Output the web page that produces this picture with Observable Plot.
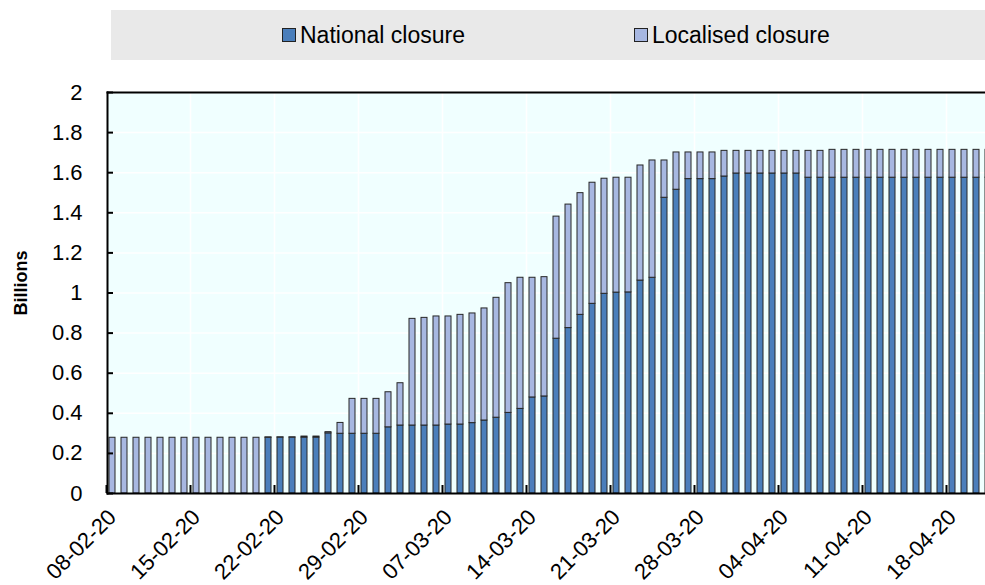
<!DOCTYPE html>
<html>
<head>
<meta charset="utf-8">
<script src="https://cdn.jsdelivr.net/npm/d3@7"></script>
<script src="https://cdn.jsdelivr.net/npm/@observablehq/plot@0.6"></script>
<style>
  html, body { margin: 0; padding: 0; background: #fff; width: 985px; height: 585px; overflow: hidden; }
  #legend { position: relative; width: 985px; height: 70px; font-family: "Liberation Sans", Arial, sans-serif; }
  #legend .band { position: absolute; left: 111px; top: 10px; width: 874px; height: 50px; background: #e9e9e9; }
  #legend .item { position: absolute; top: 10px; height: 50px; display: flex; align-items: center; font-size: 23px; color: #000; }
  #legend .sw { width: 12px; height: 12px; border: 1px solid #222; margin-right: 4px; box-sizing: content-box; }
  #chart svg { display: block; }
</style>
</head>
<body>
<div id="legend"><div class="band"></div></div>
<div id="chart"></div>
<script>
// Categories: one bar per day
const dates = [
  "08-02-20","09-02-20","10-02-20","11-02-20","12-02-20","13-02-20","14-02-20",
  "15-02-20","16-02-20","17-02-20","18-02-20","19-02-20","20-02-20","21-02-20",
  "22-02-20","23-02-20","24-02-20","25-02-20","26-02-20","27-02-20","28-02-20",
  "29-02-20","01-03-20","02-03-20","03-03-20","04-03-20","05-03-20","06-03-20",
  "07-03-20","08-03-20","09-03-20","10-03-20","11-03-20","12-03-20","13-03-20",
  "14-03-20","15-03-20","16-03-20","17-03-20","18-03-20","19-03-20","20-03-20",
  "21-03-20","22-03-20","23-03-20","24-03-20","25-03-20","26-03-20","27-03-20",
  "28-03-20","29-03-20","30-03-20","31-03-20","01-04-20","02-04-20","03-04-20",
  "04-04-20","05-04-20","06-04-20","07-04-20","08-04-20","09-04-20","10-04-20",
  "11-04-20","12-04-20","13-04-20","14-04-20","15-04-20","16-04-20","17-04-20",
  "18-04-20","19-04-20","20-04-20","21-04-20"
];

// Series values (billions)
const national = [
  0,0,0,0,0,0,0,
  0,0,0,0,0,0,0.278,
  0.279,0.279,0.279,0.279,0.300,0.298,0.298,
  0.298,0.298,0.330,0.339,0.339,0.339,0.339,
  0.344,0.344,0.351,0.364,0.378,0.402,0.422,
  0.479,0.484,0.772,0.825,0.891,0.946,0.996,
  1.002,1.003,1.062,1.076,1.475,1.515,1.568,
  1.568,1.568,1.581,1.596,1.596,1.596,1.596,
  1.596,1.596,1.575,1.575,1.575,1.575,1.575,
  1.575,1.575,1.575,1.575,1.575,1.575,1.575,
  1.575,1.575,1.575,1.575
];
const localised = [
  0.278,0.278,0.278,0.278,0.278,0.278,0.278,
  0.278,0.278,0.278,0.278,0.278,0.278,0.002,
  0.001,0.001,0.005,0.005,0.006,0.054,0.174,
  0.174,0.174,0.175,0.211,0.532,0.537,0.544,
  0.539,0.547,0.547,0.559,0.598,0.647,0.654,
  0.597,0.595,0.609,0.616,0.607,0.604,0.574,
  0.573,0.572,0.574,0.585,0.186,0.186,0.133,
  0.133,0.133,0.128,0.113,0.113,0.113,0.113,
  0.113,0.113,0.134,0.134,0.139,0.139,0.139,
  0.139,0.139,0.139,0.139,0.139,0.139,0.139,
  0.139,0.139,0.139,0.139
];

const seriesNames = ["National closure", "Localised closure"];
const seriesColors = ["#4a7ebb", "#a7b7e1"];

// Tick labels
const xTickLabels = ["08-02-20","15-02-20","22-02-20","29-02-20","07-03-20","14-03-20","21-03-20","28-03-20","04-04-20","11-04-20","18-04-20"];
const yTicks = [0, 0.2, 0.4, 0.6, 0.8, 1, 1.2, 1.4, 1.6, 1.8, 2];
const yTickLabels = ["0","0.2","0.4","0.6","0.8","1","1.2","1.4","1.6","1.8","2"];
const yLabel = "Billions";

// Legend (HTML, above the SVG)
const legend = document.getElementById("legend");
const legendX = [282, 634];
seriesNames.forEach((name, i) => {
  const item = document.createElement("div");
  item.className = "item";
  item.style.left = legendX[i] + "px";
  const sw = document.createElement("div");
  sw.className = "sw";
  sw.style.background = seriesColors[i];
  const t = document.createElement("span");
  t.textContent = name;
  item.appendChild(sw); item.appendChild(t);
  legend.appendChild(item);
});

// Long table for stacking
const table = [];
dates.forEach((d, i) => {
  table.push({date: d, series: seriesNames[0], value: national[i]});
  table.push({date: d, series: seriesNames[1], value: localised[i]});
});

const chart = Plot.plot({
  width: 985,
  height: 515,
  marginLeft: 107,
  marginRight: 0,
  marginTop: 22,
  marginBottom: 92,
  style: {fontFamily: "'Liberation Sans', Arial, sans-serif", fontSize: "22px", color: "#000", background: "white"},
  x: {type: "band", domain: dates, range: [106, 106 + 12 * dates.length], paddingInner: 0.5, paddingOuter: 0.25, label: null},
  y: {domain: [0, 2], label: null},
  color: {domain: seriesNames, range: seriesColors},
  marks: [
    Plot.frame({fill: "#f0ffff", stroke: "none"}),
    Plot.ruleY(yTicks, {y: d => d, stroke: "white", strokeWidth: 1.5}),
    Plot.ruleX(xTickLabels, {x: d => d, dx: -6, stroke: "white", strokeWidth: 1.5}),
    Plot.barY(table, {x: "date", y: "value", fill: "series", order: seriesNames, stroke: "#262626", strokeWidth: 1}),
    Plot.ruleX(xTickLabels, {x: d => d, y1: 0, y2: 0.04, dx: -6, stroke: "#000", strokeWidth: 2}),
    Plot.axisY({ticks: yTicks, tickSize: -6, tickPadding: 31, strokeWidth: 2, tickFormat: d => yTickLabels[yTicks.indexOf(d)], fontSize: 22, label: null}),
    Plot.frame({anchor: "left", stroke: "#000", strokeWidth: 2}),
    Plot.frame({anchor: "top", stroke: "#000", strokeWidth: 2}),
    Plot.frame({anchor: "bottom", stroke: "#000", strokeWidth: 2}),
    Plot.axisX({ticks: xTickLabels, tickSize: 0, tickPadding: 20, tickRotate: -45, fontSize: 22, label: null}),
    Plot.text([yLabel], {frameAnchor: "left", textAnchor: "middle", rotate: -90, dx: -86, dy: -10, fontWeight: "bold", fontSize: "18px", fill: "#000"})
  ]
});
document.getElementById("chart").appendChild(chart);
</script>
</body>
</html>
